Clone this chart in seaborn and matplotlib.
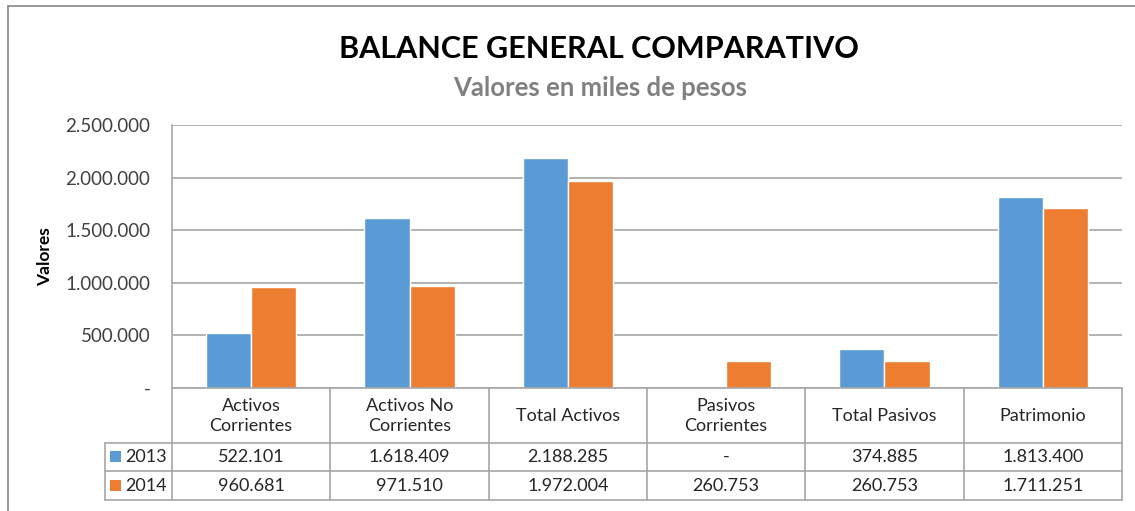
import numpy as np
import pandas as pd
import matplotlib.pyplot as plt
import seaborn as sns
from matplotlib.ticker import FuncFormatter
from matplotlib.transforms import blended_transform_factory
from matplotlib.patches import Rectangle
from matplotlib.lines import Line2D

categories = ["Activos\nCorrientes", "Activos No\nCorrientes", "Total Activos",
              "Pasivos\nCorrientes", "Total Pasivos", "Patrimonio"]
years = ["2013", "2014"]
values_2013 = [522101, 1618409, 2188285, 0, 374885, 1813400]
values_2014 = [960681, 971510, 1972004, 260753, 260753, 1711251]
yticks = [0, 500000, 1000000, 1500000, 2000000, 2500000]
colors = ["#5B9BD5", "#ED7D31"]

sns.set_theme(style="white")
plt.rcParams['font.family'] = ['Lato', 'DejaVu Sans']

W, H = 1135, 511


def px(x):
    return x / W


def py(y):
    return 1 - y / H


def fmt(v):
    # Excel-style thousands with dots, zero shown as dash
    return "-" if v == 0 else f"{v:,.0f}".replace(",", ".")


df = pd.DataFrame({
    "categoria": categories * 2,
    "anio": [years[0]] * len(categories) + [years[1]] * len(categories),
    "valor": values_2013 + values_2014,
})

fig = plt.figure(figsize=(W / 100, H / 100), dpi=100)
ax = fig.add_axes([px(172), py(388), px(1122) - px(172), py(125) - py(388)])

sns.barplot(data=df, x="categoria", y="valor", hue="anio", palette=colors,
            width=0.57, gap=0, saturation=1, legend=False, ax=ax)

ax.set_xlim(-0.5, len(categories) - 0.5)
ax.set_ylim(yticks[0], yticks[-1])
ax.set_yticks(yticks)
ax.yaxis.set_major_formatter(FuncFormatter(lambda v, _: fmt(v)))
ax.set_xticks([])
ax.set_xlabel("")
ax.set_ylabel("")
ax.grid(axis="y", color="#A6A6A6", lw=1.2)
ax.set_axisbelow(True)
for s in ["top", "right"]:
    ax.spines[s].set_visible(False)
for s in ["left", "bottom"]:
    ax.spines[s].set_color("#A6A6A6")
    ax.spines[s].set_linewidth(1.2)
ax.tick_params(axis="y", length=0, pad=15.5, labelsize=13.5, labelcolor="#404040")

# data table under the plot
tr = blended_transform_factory(ax.transData, fig.transFigure)
line_kw = dict(color="#A6A6A6", lw=1.2)
for yy in [443, 471, 500]:
    fig.add_artist(Line2D([px(105), px(1122)], [py(yy), py(yy)], transform=fig.transFigure, **line_kw))
for i in range(len(categories) + 1):
    fig.add_artist(Line2D([i - 0.5, i - 0.5], [py(388), py(500)], transform=tr, **line_kw))
fig.add_artist(Line2D([px(105), px(105)], [py(443), py(500)], transform=fig.transFigure, **line_kw))

txt_kw = dict(fontsize=13, color="#262626", ha="center", va="center")
for i, cat in enumerate(categories):
    fig.text(i, py(416), cat, transform=tr, linespacing=1.25, **txt_kw)
    fig.text(i, py(457), fmt(values_2013[i]), transform=tr, **txt_kw)
    fig.text(i, py(486), fmt(values_2014[i]), transform=tr, **txt_kw)

for j, (yr, c) in enumerate(zip(years, colors)):
    yc = [457, 486][j]
    fig.add_artist(Rectangle((px(110), py(yc + 5)), px(11), 11 / H, transform=fig.transFigure,
                             facecolor=c, edgecolor="none"))
    fig.text(px(125), py(yc), yr, ha="left", va="center", fontsize=13, color="#262626")

# titles and axis label
fig.text(px(599), py(49), "BALANCE GENERAL COMPARATIVO", ha="center", va="center",
         fontsize=22, fontweight="bold", color="#000000")
fig.text(px(600), py(88), "Valores en miles de pesos", ha="center", va="center",
         fontsize=18.5, fontweight="bold", color="#808080")
fig.text(px(45), py(257), "Valores", rotation=90, ha="center", va="center",
         fontsize=12.5, fontweight="bold", color="#000000")

# chart border
fig.add_artist(Line2D([px(8), px(8)], [py(6), 0], transform=fig.transFigure, color="#888888", lw=1.2))
fig.add_artist(Line2D([px(8), 1], [py(6), py(6)], transform=fig.transFigure, color="#888888", lw=1.2))

fig.savefig("out.png", dpi=100)
